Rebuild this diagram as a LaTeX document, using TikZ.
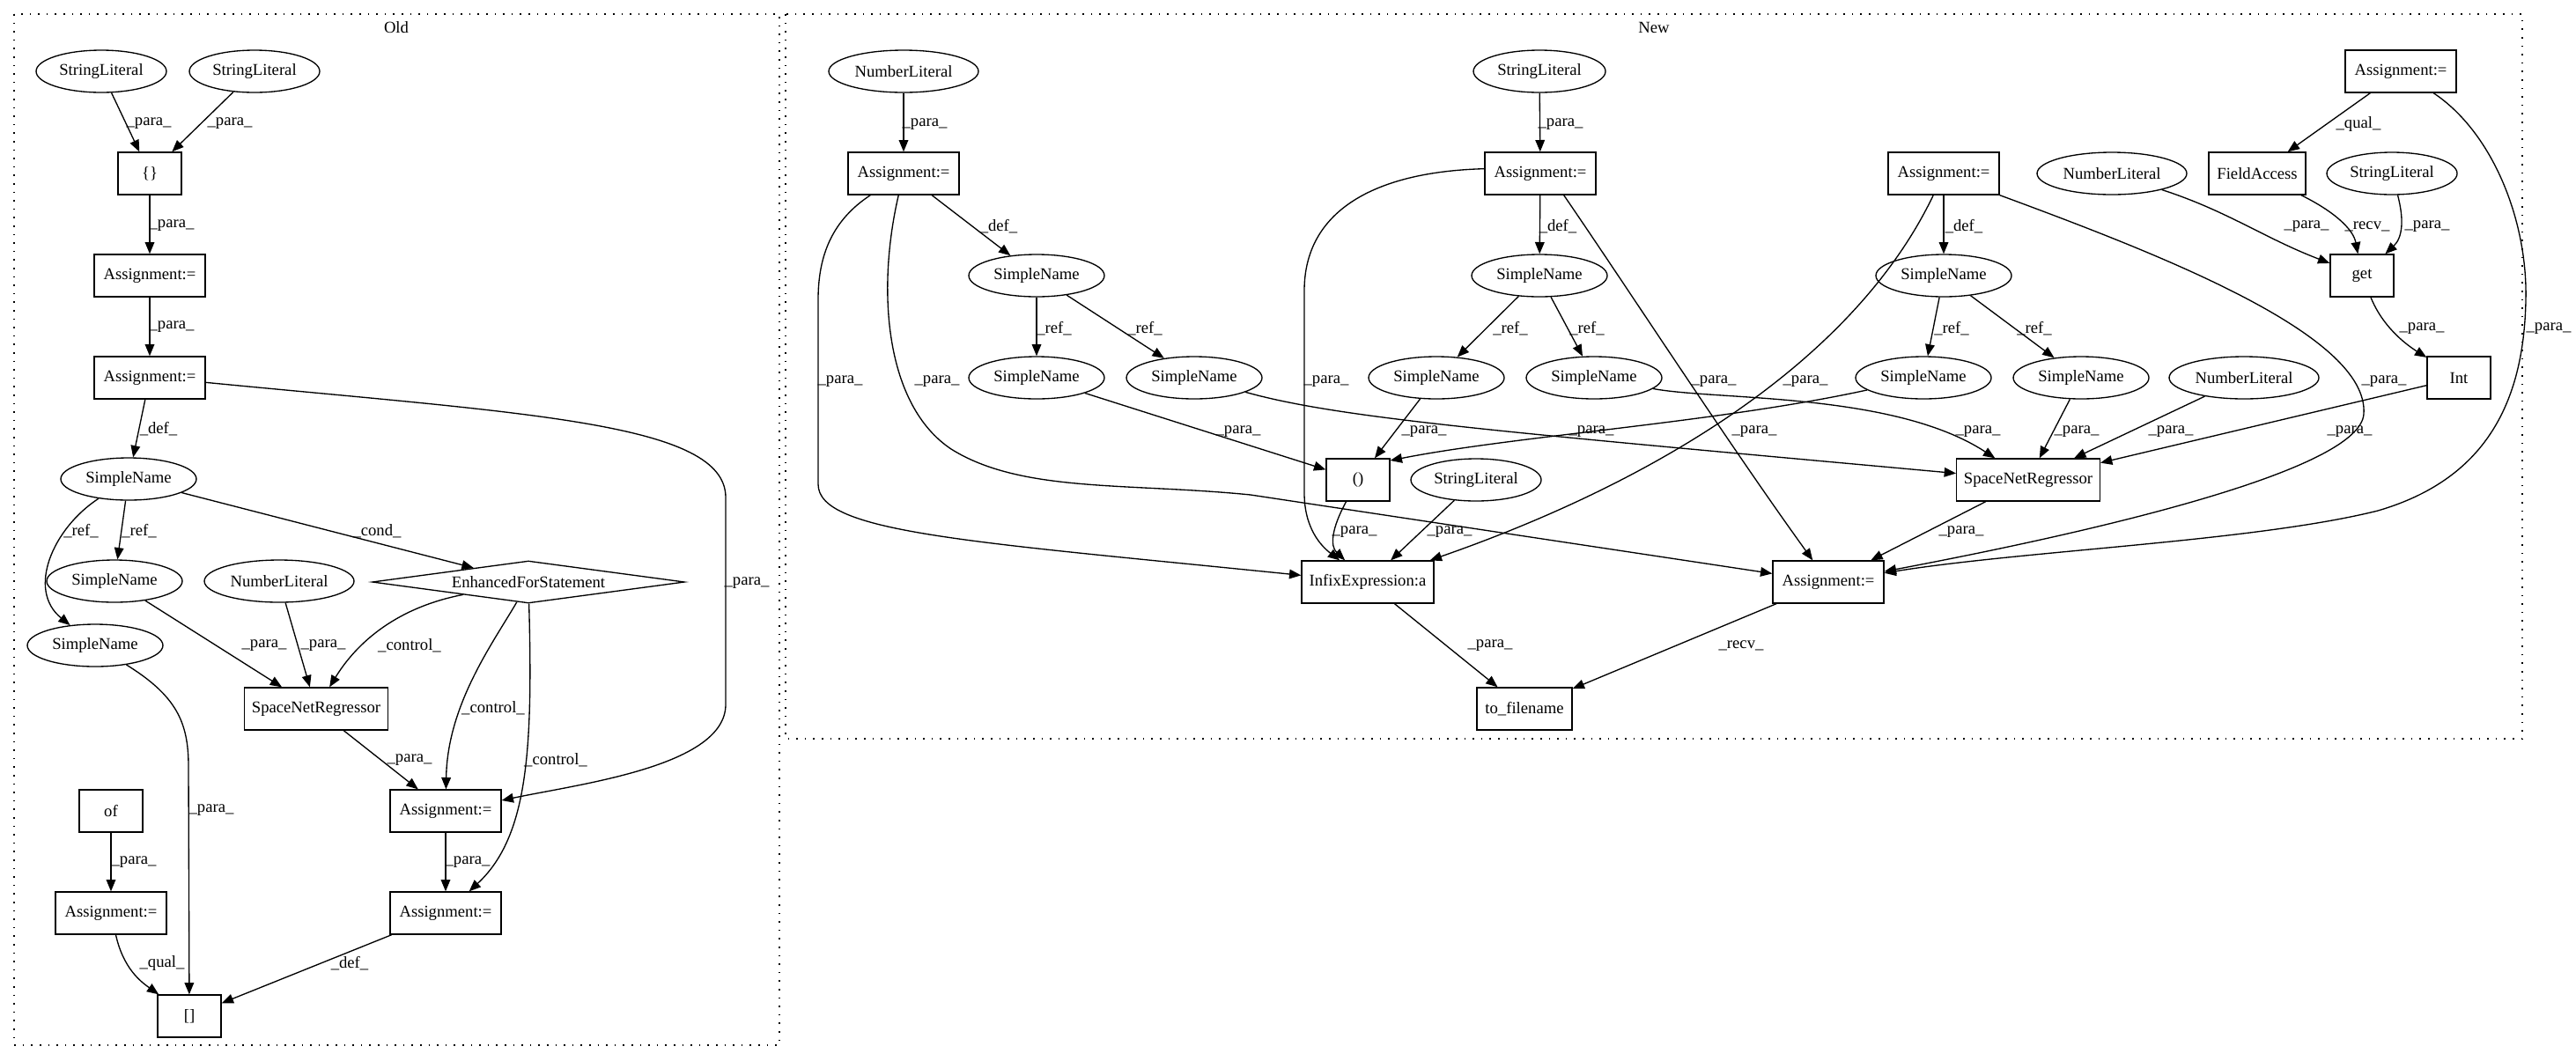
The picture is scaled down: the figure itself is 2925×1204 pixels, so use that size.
\documentclass[tikz,border=0pt]{standalone}
\usepackage{fontspec}
\setmainfont{Liberation Serif}
\usetikzlibrary{shapes.geometric,arrows.meta}
\begin{document}
\begin{tikzpicture}[x=0.75pt,y=-0.75pt,
  every node/.style={font=\fontsize{14pt}{16pt}\selectfont, inner sep=0pt},
  ell/.style={draw, ellipse, line width=1pt, minimum height=36pt},
  box/.style={draw, rectangle, line width=1pt, minimum height=36pt},
  dia/.style={draw, diamond, line width=1pt, aspect=7.4, minimum height=36pt},
  arr/.style={-{Triangle[length=10pt,width=8pt]}, line width=1pt},
  clus/.style={draw, line width=1pt, dash pattern=on 1.2pt off 6pt},
]
\useasboundingbox (0,0) rectangle (2925,1204);
% clusters
\draw[clus] (16,16) rectangle (885,1187);
\node (oldlab) at (450,31) {Old};
\draw[clus] (892,16) rectangle (2864,839);
\node (newlab) at (1878,31) {New};

% ---------------- OLD nodes
\node[ell, minimum width=111pt] (osl1) at (115,81) {StringLiteral};
\node[ell, minimum width=111pt] (osl2) at (289,81) {StringLiteral};
\node[box, minimum width=54pt] (obr) at (170,197) {\{\}};
\node[box, minimum width=94.5pt] (oa1) at (170,313) {Assignment:=};
\node[box, minimum width=94.5pt] (oa2) at (170,429) {Assignment:=};
\node[ell, minimum width=115.5pt] (osn) at (146,544) {SimpleName};
\node[ell, minimum width=115.5pt] (osna) at (130,660) {SimpleName};
\node[ell, minimum width=127.5pt] (onl) at (317,660) {NumberLiteral};
\node[dia, minimum width=266pt] (oefs) at (600,661) {EnhancedForStatement};
\node[ell, minimum width=115.5pt] (osnb) at (108,733) {SimpleName};
\node[box, minimum width=122pt] (osnr) at (359,805) {SpaceNetRegressor};
\node[box, minimum width=54pt] (oof) at (126,921) {of};
\node[box, minimum width=94.5pt] (oam) at (506,921) {Assignment:=};
\node[box, minimum width=94.5pt] (oal) at (126,1037) {Assignment:=};
\node[box, minimum width=94.5pt] (oar) at (506,1037) {Assignment:=};
\node[box, minimum width=54pt] (oidx) at (215,1154) {{[]}};

% ---------------- NEW nodes
\node[ell, minimum width=127.5pt] (nnl1) at (1026,81) {NumberLiteral};
\node[box, minimum width=94.5pt] (na) at (1026,197) {Assignment:=};
\node[ell, minimum width=112.5pt] (nsl1) at (1748,81) {StringLiteral};
\node[box, minimum width=94.5pt] (nb) at (1749,197) {Assignment:=};
\node[ell, minimum width=115.5pt] (nsna) at (1177,313) {SimpleName};
\node[ell, minimum width=115.5pt] (nsnb) at (1748,313) {SimpleName};
\node[ell, minimum width=115.5pt] (na1) at (1177,429) {SimpleName};
\node[ell, minimum width=115.5pt] (na2) at (1356,429) {SimpleName};
\node[ell, minimum width=115.5pt] (nb1) at (1631,429) {SimpleName};
\node[ell, minimum width=115.5pt] (nb2) at (1810,429) {SimpleName};
\node[box, minimum width=94.5pt] (nc) at (2726,81) {Assignment:=};
\node[box, minimum width=94.5pt] (nd) at (2207,197) {Assignment:=};
\node[ell, minimum width=127.5pt] (nnl2) at (2398,197) {NumberLiteral};
\node[box, minimum width=82.5pt] (nfa) at (2563,197) {FieldAccess};
\node[ell, minimum width=111pt] (nsl2) at (2716,197) {StringLiteral};
\node[box, minimum width=54pt] (nget) at (2682,313) {get};
\node[ell, minimum width=115.5pt] (nsnd) at (2207,313) {SimpleName};
\node[ell, minimum width=115.5pt] (nd1) at (2184,429) {SimpleName};
\node[ell, minimum width=115.5pt] (nd2) at (2363,429) {SimpleName};
\node[ell, minimum width=127.5pt] (nnl3) at (2548,429) {NumberLiteral};
\node[box, minimum width=54pt] (nint) at (2792,429) {Int};
\node[box, minimum width=54pt] (npar) at (1542,545) {()};
\node[ell, minimum width=111pt] (nsl3) at (1676,545) {StringLiteral};
\node[box, minimum width=122pt] (nsnr) at (2303,545) {SpaceNetRegressor};
\node[box, minimum width=112.5pt] (ninf) at (1553,661) {InfixExpression:a};
\node[box, minimum width=94.5pt] (nfin) at (2076,661) {Assignment:=};
\node[box, minimum width=81pt] (ntf) at (1731,805) {to\_filename};

% ---------------- OLD edges
\draw[arr] (osl1) -- (obr); \node (lo1) at (169,140) {\_para\_};
\draw[arr] (osl2) -- (obr); \node (lo2) at (261,140) {\_para\_};
\draw[arr] (obr) -- (oa1); \node (lo3) at (195,256) {\_para\_};
\draw[arr] (oa1) -- (oa2); \node (lo4) at (195,371) {\_para\_};
\draw[arr] (oa2) -- (osn); \node (lo5) at (180,487) {\_def\_};
\draw[arr] ([yshift=-4pt]oa2.east) .. controls (600,470) and (824,480) .. (824,565) -- (824,800) .. controls (824,870) and (660,890) .. ([yshift=9pt]oam.east);
\node (lo6) at (848,662) {\_para\_};
\draw[arr] (osn) -- (osna); \node (lo7) at (158,603) {\_ref\_};
\draw[arr] (osn) .. controls (60,600) and (30,670) .. (osnb); \node (lo8) at (92,603) {\_ref\_};
\draw[arr] (osn) -- (oefs); \node (lo9) at (428,603) {\_cond\_};
\draw[arr] (osna) -- (osnr); \node (lo10) at (300,733) {\_para\_};
\draw[arr] (onl) -- (osnr); \node (lo11) at (367,733) {\_para\_};
\draw[arr] (oefs) .. controls (450,690) and (405,730) .. (osnr); \node (lo12) at (465,733) {\_control\_};
\draw[arr] (oefs) .. controls (560,730) and (508,800) .. (oam); \node (lo13) at (560,804) {\_control\_};
\draw[arr] (oefs) .. controls (605,850) and (600,950) .. (oar); \node (lo14) at (631,863) {\_control\_};
\draw[arr] (osnr) -- (oam); \node (lo15) at (465,863) {\_para\_};
\draw[arr] (osnb) .. controls (200,790) and (214,820) .. (214,870) -- (oidx); \node (lo16) at (240,920) {\_para\_};
\draw[arr] (oof) -- (oal); \node (lo17) at (152,979) {\_para\_};
\draw[arr] (oam) -- (oar); \node (lo18) at (531,979) {\_para\_};
\draw[arr] (oal) .. controls (140,1100) and (160,1115) .. (oidx); \node (lo19) at (184,1094) {\_qual\_};
\draw[arr] (oar) -- (oidx); \node (lo20) at (397,1094) {\_def\_};

% ---------------- NEW edges
\draw[arr] (nnl1) -- (na); \node (ln1) at (1050,141) {\_para\_};
\draw[arr] (na) -- (nsna); \node (ln2) at (1134,257) {\_def\_};
\draw[arr] (na) .. controls (945,250) and (929,290) .. (929,340) -- (929,550) .. controls (929,605) and (1100,615) .. (ninf);
\node (ln3) at (954,433) {\_para\_};
\draw[arr] (na) .. controls (995,330) and (1005,460) .. (1080,510) .. controls (1160,560) and (1280,548) .. (1420,562) -- (nfin);
\node (ln4) at (1064,433) {\_para\_};
\draw[arr] (nsl1) -- (nb); \node (ln5) at (1772,141) {\_para\_};
\draw[arr] (nb) -- (nsnb); \node (ln6) at (1769,257) {\_def\_};
\draw[arr] ([yshift=4pt]nb.west) .. controls (1560,195) and (1481,240) .. (1481,330) -- (1481,560) .. controls (1481,600) and (1500,620) .. (ninf);
\node (ln7) at (1506,433) {\_para\_};
\draw[arr] ([xshift=20pt]nb.south) .. controls (1850,330) and (1960,500) .. (nfin);
\node (ln8) at (1946,433) {\_para\_};
\draw[arr] (nsna) -- (na1); \node (ln9) at (1197,373) {\_ref\_};
\draw[arr] (nsna) -- (na2); \node (ln10) at (1300,373) {\_ref\_};
\draw[arr] (nsnb) -- (nb1); \node (ln11) at (1715,373) {\_ref\_};
\draw[arr] (nsnb) -- (nb2); \node (ln12) at (1802,373) {\_ref\_};
\draw[arr] (na1) -- (npar); \node (ln13) at (1406,490) {\_para\_};
\draw[arr] (nb1) -- (npar); \node (ln14) at (1617,490) {\_para\_};
\draw[arr] (nd1) .. controls (1950,480) and (1720,495) .. ([yshift=-2pt]npar.north east);
\node (ln15) at (1992,490) {\_para\_};
\draw[arr] (na2) .. controls (1520,475) and (1700,490) .. (nsnr); \node (ln16) at (1807,490) {\_para\_};
\draw[arr] (nb2) .. controls (1950,455) and (2150,445) .. (nsnr); \node (ln17) at (2246,490) {\_para\_};
\draw[arr] (nd) -- (nsnd); \node (ln18) at (2230,257) {\_def\_};
\draw[arr] (nsnd) -- (nd1); \node (ln19) at (2216,373) {\_ref\_};
\draw[arr] (nsnd) -- (nd2); \node (ln20) at (2310,373) {\_ref\_};
\draw[arr] (nd) .. controls (2110,400) and (1900,540) .. (ninf); \node (ln21) at (2050,433) {\_para\_};
\draw[arr] (nd.south east) .. controls (2450,288) and (2690,380) .. (2684,470) .. controls (2680,540) and (2320,615) .. (nfin);
\node (ln22) at (2707,433) {\_para\_};
\draw[arr] (nd2) -- (nsnr); \node (ln23) at (2358,490) {\_para\_};
\draw[arr] (nnl3) -- (nsnr); \node (ln24) at (2465,490) {\_para\_};
\draw[arr] (nint) -- (nsnr); \node (ln25) at (2668,490) {\_para\_};
\draw[arr] (nc) -- (nfa); \node (ln26) at (2678,141) {\_qual\_};
\draw[arr] (nc) .. controls (2830,150) and (2870,250) .. (2868,340) .. controls (2866,460) and (2820,545) .. (2700,580) .. controls (2560,615) and (2300,625) .. (nfin);
\node (ln27) at (2894,373) {\_para\_};
\draw[arr] (nnl2) .. controls (2530,240) and (2570,270) .. (nget); \node (ln28) at (2619,257) {\_para\_};
\draw[arr] (nfa) .. controls (2650,240) and (2672,260) .. (nget); \node (ln29) at (2688,257) {\_recv\_};
\draw[arr] (nsl2) .. controls (2730,250) and (2728,270) .. (nget); \node (ln30) at (2756,257) {\_para\_};
\draw[arr] (nget) .. controls (2705,370) and (2730,390) .. (nint); \node (ln31) at (2750,373) {\_para\_};
\draw[arr] (npar) .. controls (1512,600) and (1510,620) .. (ninf); \node (ln32) at (1538,604) {\_para\_};
\draw[arr] (nsl3) -- (ninf); \node (ln33) at (1646,604) {\_para\_};
\draw[arr] (nsnr) -- (nfin); \node (ln34) at (2227,604) {\_para\_};
\draw[arr] (ninf) -- (ntf); \node (ln35) at (1692,733) {\_para\_};
\draw[arr] (nfin) -- (ntf); \node (ln36) at (1977,733) {\_recv\_};
\end{tikzpicture}
\end{document}
